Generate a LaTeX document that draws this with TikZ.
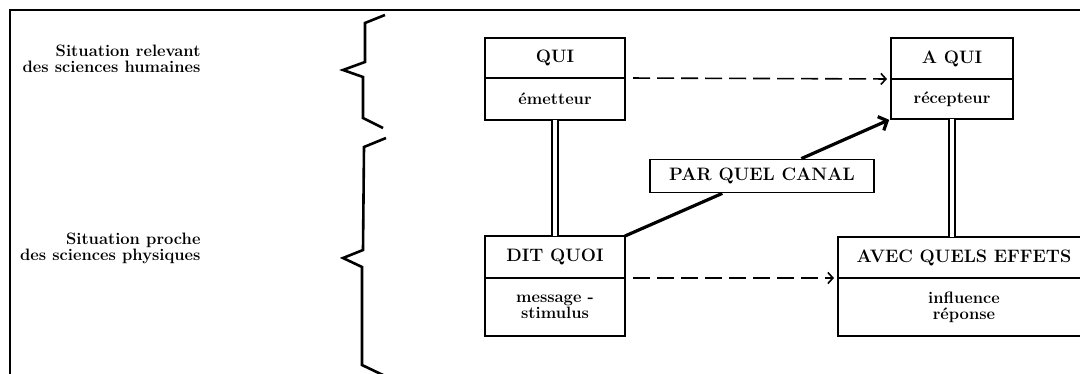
\documentclass[tikz,border=0pt]{standalone}
\usepackage{tikz}
\usetikzlibrary{arrows.meta, positioning}

\begin{document}
\begin{tikzpicture}[x=1pt, y=-1pt,
  tete/.style={draw, line width=1.8pt, outer sep=0pt, inner sep=0pt,
    minimum height=41pt, font=\bfseries\fontsize{18}{20}\selectfont},
  bas/.style={draw, line width=1.8pt, outer sep=0pt, inner sep=0pt,
    align=center, font=\bfseries\fontsize{16.5}{16}\selectfont},
  legende/.style={anchor=east, align=right, font=\bfseries\fontsize{16.5}{16}\selectfont},
  tiret/.style={line width=1.6pt, dash pattern=on 17pt off 7pt,
    -{Straight Barb[length=5pt,width=11pt]}},
  lien/.style={double, line width=2.2pt, double distance=4.5pt},
  accolade/.style={line width=2.6pt, line join=miter}
]
  \useasboundingbox (0,0) rectangle (1080,374);
  \clip (0,0) rectangle (1080,374);

  %--- cadre
  \draw[line width=2pt] (10,380) -- (10,10) -- (1090,10);

  %--- legendes et accolades
  \node[legende] (humaines) at (204,59) {Situation relevant\\des sciences humaines};
  \node[legende] (physiques) at (204,248) {Situation proche\\des sciences physiques};
  \draw[accolade] (385,15) -- (365,23) -- (365,62) -- (343,70) -- (363,77)
    -- (363,118) -- (383,128);
  \draw[accolade] (386,138) -- (364,147) -- (363,250) -- (343,258) -- (362,267)
    -- (362,365) -- (385,376);

  %--- emetteur / recepteur
  \node[tete, minimum width=140pt, minimum height=40pt] (qui) at (555,58) {QUI};
  \node[bas, minimum width=140pt, minimum height=42pt, below=0pt of qui] (quiB) {émetteur};
  \node[tete, minimum width=122pt, minimum height=41pt] (aqui) at (952,58.5) {A QUI};
  \node[bas, minimum width=122pt, minimum height=40pt, below=0pt of aqui] (aquiB) {récepteur};

  %--- message / effets
  \node[tete, minimum width=140pt, minimum height=42pt] (dit) at (555,257) {DIT QUOI};
  \node[bas, minimum width=140pt, minimum height=58pt, below=0pt of dit] (ditB)
    {message -\\stimulus};
  \node[tete, minimum width=252pt, minimum height=41pt] (avec) at (964,257.5) {AVEC QUELS EFFETS};
  \node[bas, minimum width=252pt, minimum height=58pt, below=0pt of avec] (avecB)
    {influence\\réponse};

  %--- canal
  \node[draw, line width=1.8pt, minimum width=224pt, minimum height=33pt,
    font=\bfseries\fontsize{18}{20}\selectfont] (canal) at (762,176) {PAR QUEL CANAL};

  %--- liaisons
  \draw[tiret, shorten <=8pt, shorten >=4pt] (qui.south east) -- (aqui.south west);
  \draw[tiret, shorten <=8pt, shorten >=4pt] (dit.south east) -- (avec.south west);
  \draw[lien] (quiB.south) -- (dit.north);
  \draw[lien] (aquiB.south) -- (aquiB.south |- avec.north);
  \draw[line width=3.2pt] (dit.north east) -- (canal);
  \draw[line width=3.2pt, -{Straight Barb[length=7pt,width=15pt]}, shorten >=2pt]
    (canal) -- (aquiB.south west);
\end{tikzpicture}
\end{document}
